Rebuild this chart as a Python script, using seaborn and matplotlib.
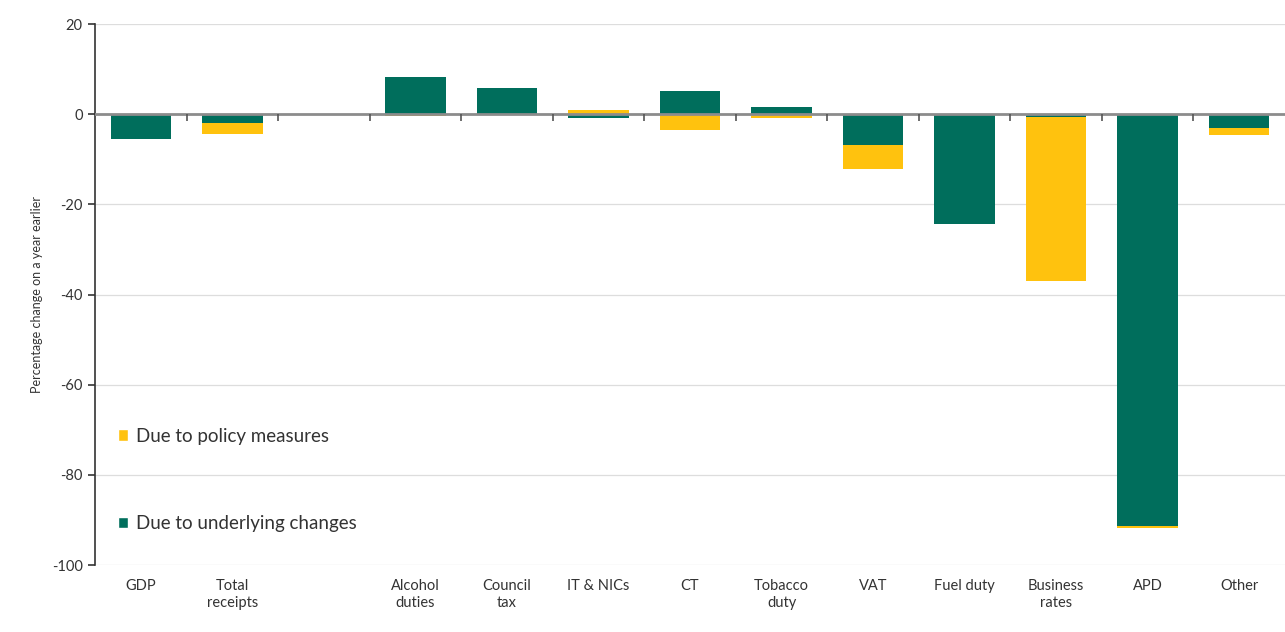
import numpy as np
import pandas as pd
import matplotlib
matplotlib.use("Agg")
import matplotlib.pyplot as plt
import seaborn as sns
from matplotlib.patches import Patch

categories = ["GDP", "Total\nreceipts", " ", "Alcohol\nduties", "Council\ntax", "IT & NICs",
              "CT", "Tobacco\nduty", "VAT", "Fuel duty", "Business\nrates", "APD", "Other"]
underlying = [-5.6, -2.0, 0.0, 8.2, 5.7, -0.8, 5.1, 1.5, -6.8, -24.4, -0.6, -91.4, -3.1]
policy = [0.0, -2.3, 0.0, -0.5, 0.0, 1.0, -3.4, -0.8, -5.3, 0.0, -36.4, -0.4, -1.5]
yticks = [20, 0, -20, -40, -60, -80, -100]

GREEN = "#006E5C"
YELLOW = "#FFC20E"

sns.set_theme(style="white")
plt.rcParams["font.family"] = ["Lato", "DejaVu Sans"]

und = np.array(underlying)
pol = np.array(policy)
pol_bottom = np.where(np.sign(pol) == np.sign(und), und, 0.0)

df = pd.DataFrame({"cat": categories, "und": und, "pol": pol, "pol_bottom": pol_bottom})

fig = plt.figure(figsize=(12.85, 6.32), dpi=100)
ax = fig.add_axes([0.074, 0.106, 0.926, 0.856])

sns.barplot(data=df, x="cat", y="und", color=GREEN, width=0.66, ax=ax,
            saturation=1, order=categories, linewidth=0)
sns.barplot(data=df, x="cat", y="pol", bottom=df["pol_bottom"], color=YELLOW, width=0.66,
            ax=ax, saturation=1, order=categories, linewidth=0)

ax.set_xlim(-0.5, len(categories) - 0.5)
ax.set_ylim(-100, 20)
ax.set_yticks(yticks)
ax.set_yticklabels([str(v) for v in yticks], fontsize=10.5, color="#333333")
ax.set_xticks(range(len(categories)))
ax.set_xticklabels(categories, fontsize=10.5, color="#333333", linespacing=1.25, va="top")
ax.tick_params(axis="x", length=0, pad=10)
ax.tick_params(axis="y", length=5, width=1.2, color="#333333", left=True, pad=4)
ax.set_xlabel("")
ax.set_ylabel("Percentage change on a year earlier", fontsize=9, color="#333333", labelpad=6)

for v in yticks:
    if v != 0:
        ax.axhline(v, color="#DDDDDD", lw=0.9, zorder=0)
ax.axhline(0, color="#8C8C8C", lw=2.0, zorder=3)
bounds = np.arange(len(categories) - 1) + 0.5
ax.vlines(bounds, -1.6, 0, color="#555555", lw=1.2, zorder=3)

for s in ["top", "right", "bottom"]:
    ax.spines[s].set_visible(False)
ax.spines["left"].set_color("#333333")
ax.spines["left"].set_linewidth(1.2)

handles = [Patch(facecolor=YELLOW, label="Due to policy measures"),
           Patch(facecolor=GREEN, label="Due to underlying changes")]
ax.legend(handles=handles, loc="upper left", bbox_to_anchor=(0.005, 0.285), frameon=False,
          fontsize=13.5, labelspacing=3.75, handlelength=0.55, handleheight=0.55,
          handletextpad=0.4, labelcolor="#333333")

fig.savefig("out.png", dpi=100)
